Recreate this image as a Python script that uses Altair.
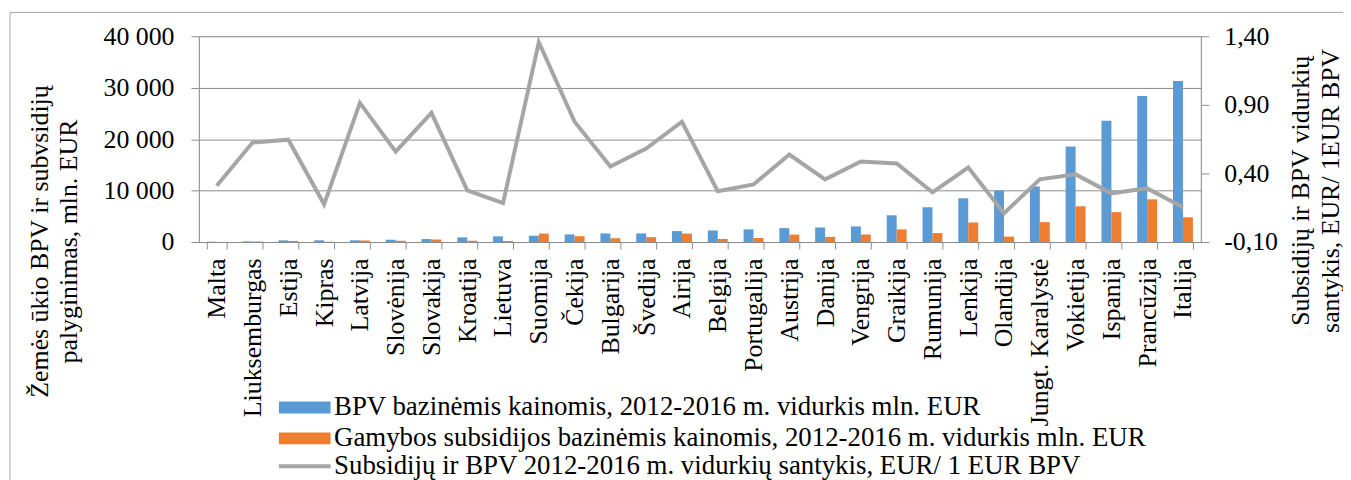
import altair as alt
import pandas as pd

countries = ["Malta", "Liuksemburgas", "Estija", "Kipras", "Latvija", "Slovėnija", "Slovakija",
             "Kroatija", "Lietuva", "Suomija", "Čekija", "Bulgarija", "Švedija", "Airija",
             "Belgija", "Portugalija", "Austrija", "Danija", "Vengrija", "Graikija", "Rumunija",
             "Lenkija", "Olandija", "Jungt. Karalystė", "Vokietija", "Ispanija", "Prancūzija", "Italija"]

bpv = [60, 130, 320, 330, 330, 450, 580, 900, 1100, 1220, 1480, 1670, 1670, 2125,
       2250, 2450, 2700, 2830, 3030, 5200, 6760, 8500, 10000, 10800, 18550, 23570, 28400, 31300]

subsidies = [19, 80, 205, 58, 300, 250, 490, 250, 200, 1640, 1130, 740, 950, 1640,
             600, 780, 1440, 1000, 1460, 2450, 1740, 3800, 1050, 3860, 6950, 5800, 8300, 4800]

ratio = [0.31, 0.625, 0.646, 0.175, 0.914, 0.559, 0.842, 0.277, 0.183, 1.357, 0.777, 0.451,
         0.581, 0.777, 0.27, 0.32, 0.538, 0.357, 0.487, 0.472, 0.262, 0.443, 0.11, 0.357,
         0.393, 0.255, 0.291, 0.154]

s1 = "BPV bazinėmis kainomis, 2012-2016 m. vidurkis mln. EUR"
s2 = "Gamybos subsidijos bazinėmis kainomis, 2012-2016 m. vidurkis mln. EUR"
s3 = "Subsidijų ir BPV 2012-2016 m. vidurkių santykis, EUR/ 1 EUR BPV"

left_ticks = [0, 10000, 20000, 30000, 40000]
right_ticks = [-0.10, 0.40, 0.90, 1.40]

FONT = "Liberation Serif"
GRID = "#8c8c8c"

bars_df = pd.DataFrame(
    [{"country": c, "series": s1, "value": v} for c, v in zip(countries, bpv)]
    + [{"country": c, "series": s2, "value": v} for c, v in zip(countries, subsidies)]
)
line_df = pd.DataFrame({"country": countries, "ratio": ratio, "lseries": [s3] * len(countries)})
frame_df = pd.DataFrame({"k": [0]})

x_enc = alt.X(
    "country:N", sort=countries, title=None,
    scale=alt.Scale(paddingInner=0.444, paddingOuter=0.222),
    axis=alt.Axis(labelAngle=270, labelAlign="right", labelBaseline="middle",
                  labelFont=FONT, labelFontSize=26, labelColor="black", labelPadding=9,
                  labelLimit=1000, tickBand="extent", tickSize=7, tickColor=GRID,
                  domainColor=GRID, grid=False),
)

bars = alt.Chart(bars_df).mark_bar().encode(
    x=x_enc,
    xOffset=alt.XOffset("series:N", sort=[s1, s2], scale=alt.Scale(paddingInner=0, paddingOuter=0)),
    y=alt.Y("value:Q", scale=alt.Scale(domain=[0, 40000]),
            axis=alt.Axis(values=left_ticks, orient="left",
                          labelExpr="replace(format(datum.value, ','), ',', ' ')",
                          labelFont=FONT, labelFontSize=26, labelColor="black", labelPadding=17,
                          tickSize=8, tickColor=GRID, domainColor=GRID,
                          grid=True, gridColor=GRID,
                          title=["Žemės ūkio BPV ir subvsidijų", "palyginimas, mln. EUR"],
                          titleFont=FONT, titleFontSize=26, titleFontWeight="normal",
                          titleColor="black", titleAngle=270, titleAlign="center",
                          titleBaseline="top", titleLineHeight=29, titleX=-173, titleY=206)),
    color=alt.Color("series:N", sort=[s1, s2],
                    scale=alt.Scale(domain=[s1, s2], range=["#5B9BD5", "#ED7D31"]),
                    legend=alt.Legend(orient="none", legendX=93, legendY=360, title=None,
                                      symbolType="M-5.2,-1.2H5.2V1.2H-5.2Z", symbolSize=100,
                                      symbolStrokeWidth=0, labelFont=FONT, labelFontSize=27,
                                      labelColor="black", labelLimit=2000, labelOffset=16,
                                      rowPadding=3)),
)

line = alt.Chart(line_df).mark_line(strokeWidth=4).encode(
    x=alt.X("country:N", sort=countries),
    y=alt.Y("ratio:Q", scale=alt.Scale(domain=[-0.10, 1.40]),
            axis=alt.Axis(values=right_ticks, orient="right",
                          labelExpr="(datum.value < 0 ? '-' : '') + replace(format(abs(datum.value), '.2f'), '.', ',')",
                          labelFont=FONT, labelFontSize=26, labelColor="black", labelPadding=15,
                          tickSize=8, tickColor=GRID, domainColor=GRID, grid=False,
                          title=["Subsidijų ir BPV vidurkių", "santykis, EUR/ 1EUR BPV"],
                          titleFont=FONT, titleFontSize=26, titleFontWeight="normal",
                          titleColor="black", titleAngle=270, titleAlign="center",
                          titleBaseline="top", titleLineHeight=30, titleX=87, titleY=155)),
    color=alt.Color("lseries:N", scale=alt.Scale(domain=[s3], range=["#A5A5A5"]),
                    legend=alt.Legend(orient="none", legendX=93, legendY=419, title=None,
                                      symbolType="M-5.2,0H5.2", symbolSize=100,
                                      symbolStrokeWidth=4, labelFont=FONT, labelFontSize=27,
                                      labelColor="black", labelLimit=2000, labelOffset=16)),
)

frame = alt.Chart(frame_df).mark_rect(fill=None, stroke="#a6a6a6", strokeWidth=1).encode(
    x=alt.value(-190), x2=alt.value(1200), y=alt.value(-24), y2=alt.value(520)
)

chart = alt.layer(frame, bars, line).resolve_scale(y="independent", color="independent").properties(
    width=1008, height=207,
    padding={"left": 192, "top": 27, "right": 143, "bottom": 241},
    autosize=alt.AutoSizeParams(type="none"),
).configure_view(stroke=None).configure(font=FONT)

chart.save("out.html", embed_options={"renderer": "svg", "actions": False})
